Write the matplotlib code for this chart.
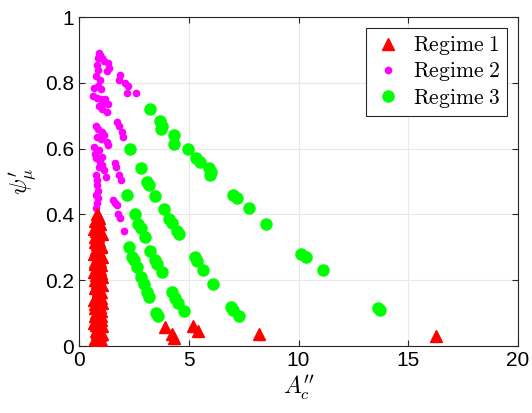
import matplotlib.pyplot as plt

plt.rcParams['mathtext.fontset'] = 'cm'
plt.rcParams['font.family'] = ['Liberation Sans', 'DejaVu Sans']

# Regime 1: dense column near A''_c ~ 0.8 plus a few isolated points
r1_x = [0.80, 0.90, 0.75, 0.95, 0.85, 0.78, 0.98, 0.88, 0.72, 0.92,
        0.82, 1.00, 0.76, 0.90, 0.86, 0.80, 0.95, 0.74, 0.88, 0.84,
        1.02, 0.78, 0.92, 0.82, 0.96, 0.76, 0.86, 0.90, 0.80, 0.98,
        0.84, 0.74, 0.94, 0.88, 0.78, 1.00, 0.82, 0.90, 0.76, 0.86,
        0.92, 0.80, 0.96, 0.84, 0.88, 0.78, 0.82, 0.90,
        0.70, 1.04, 0.72, 1.02, 0.68, 1.05, 0.73, 1.00, 0.70, 1.03,
        0.75, 1.04, 0.71, 0.99, 0.69, 1.05, 0.74, 1.02, 0.72, 1.00,
        0.70, 1.04, 0.76, 1.03, 0.72, 0.98, 0.71, 1.05, 0.73, 1.02,
        0.85, 0.93, 0.87, 0.81, 0.94, 0.89, 0.83, 0.91,
        3.93, 4.25, 4.32, 5.20, 5.40, 8.20, 16.25]
r1_y = [0.400, 0.390, 0.380, 0.370, 0.360, 0.350, 0.345, 0.335, 0.330, 0.320,
        0.310, 0.300, 0.295, 0.285, 0.275, 0.265, 0.258, 0.250, 0.240, 0.230,
        0.222, 0.215, 0.205, 0.195, 0.188, 0.180, 0.170, 0.160, 0.152, 0.145,
        0.135, 0.128, 0.120, 0.110, 0.100, 0.092, 0.085, 0.075, 0.065, 0.058,
        0.050, 0.040, 0.032, 0.025, 0.015, 0.008, 0.003, 0.000,
        0.355, 0.340, 0.315, 0.305, 0.280, 0.270, 0.255, 0.245, 0.225, 0.210,
        0.200, 0.185, 0.175, 0.165, 0.140, 0.130, 0.115, 0.105, 0.090, 0.080,
        0.070, 0.060, 0.045, 0.035, 0.020, 0.012, 0.005, 0.000, 0.000, 0.018,
        0.395, 0.375, 0.325, 0.290, 0.235, 0.155, 0.095, 0.042,
        0.058, 0.035, 0.025, 0.060, 0.045, 0.035, 0.030]

# Regime 2
r2_x = [0.90, 0.97, 0.85, 1.05, 1.15, 1.30, 1.38, 1.28, 0.80, 0.85,
        0.78, 0.95, 0.68, 0.88, 1.02, 0.65, 0.82, 1.00, 1.14, 1.20,
        0.91, 1.05, 1.28, 1.32,
        1.87, 1.83, 2.10, 2.24, 2.19, 2.60,
        0.78, 0.88, 1.05, 1.15, 0.82, 1.02, 1.28, 1.30, 0.68, 0.90,
        0.72, 0.78, 1.05,
        1.74, 1.83, 1.96, 2.00,
        1.64, 1.69, 1.83, 1.90,
        0.96, 0.91, 1.05, 1.14, 0.78, 1.23, 0.82, 0.80, 0.78, 0.87,
        0.82, 0.78, 0.85,
        1.55, 1.64, 1.74, 1.78, 1.87, 2.05]
r2_y = [0.890, 0.885, 0.875, 0.875, 0.865, 0.860, 0.845, 0.835, 0.855, 0.840,
        0.820, 0.810, 0.785, 0.790, 0.780, 0.760, 0.755, 0.750, 0.740, 0.750,
        0.730, 0.720, 0.710, 0.735,
        0.825, 0.810, 0.800, 0.790, 0.770, 0.770,
        0.670, 0.660, 0.650, 0.640, 0.635, 0.630, 0.620, 0.610, 0.605, 0.595,
        0.585, 0.570, 0.575,
        0.680, 0.670, 0.650, 0.635,
        0.555, 0.545, 0.520, 0.505,
        0.560, 0.545, 0.550, 0.535, 0.520, 0.515, 0.490, 0.505, 0.460, 0.450,
        0.435, 0.420, 0.470,
        0.445, 0.435, 0.430, 0.400, 0.390, 0.350]

# Regime 3
r3_x = [3.24, 3.68, 3.78, 3.72, 4.32, 4.34, 4.95, 5.34, 5.50, 5.90,
        6.00, 5.95, 7.03, 7.20, 7.76, 8.50, 10.10, 10.35, 11.10, 13.60, 13.72,
        2.33, 2.82, 3.10, 3.20, 3.48, 3.86, 4.10, 4.25, 4.47, 4.57,
        5.30, 5.39, 5.66, 6.10, 6.94, 7.03, 7.30,
        2.20, 2.56, 2.70, 2.83, 3.00, 3.24, 3.47, 3.56, 3.79,
        4.25, 4.38, 4.52, 4.80,
        2.28, 2.42, 2.50, 2.65, 2.83, 2.95, 3.10, 3.20, 3.53, 3.62]
r3_y = [0.720, 0.685, 0.670, 0.660, 0.640, 0.615, 0.600, 0.570, 0.560, 0.540,
        0.530, 0.520, 0.460, 0.450, 0.420, 0.370, 0.280, 0.270, 0.230, 0.115, 0.110,
        0.600, 0.540, 0.500, 0.490, 0.455, 0.415, 0.385, 0.375, 0.350, 0.340,
        0.270, 0.258, 0.230, 0.190, 0.120, 0.110, 0.090,
        0.460, 0.400, 0.370, 0.360, 0.330, 0.290, 0.260, 0.250, 0.225,
        0.165, 0.145, 0.130, 0.105,
        0.300, 0.270, 0.260, 0.240, 0.210, 0.190, 0.165, 0.150, 0.100, 0.090]

fig = plt.figure(figsize=(5.32, 4.13), dpi=100)
ax = fig.add_axes([0.1485, 0.1622, 0.8252, 0.7966])

h3, = ax.plot(r3_x, r3_y, 'o', color='#00ff00', markersize=8, zorder=3,
              label=r'$\mathrm{Regime\ 3}$')
h2, = ax.plot(r2_x, r2_y, 'o', color='#ff00ff', markersize=4.5, zorder=4,
              label=r'$\mathrm{Regime\ 2}$')
h1, = ax.plot(r1_x, r1_y, '^', color='#ff0000', markersize=8, zorder=5,
              label=r'$\mathrm{Regime\ 1}$')

ax.set_xlim(0, 20)
ax.set_ylim(0, 1)
ax.set_xticks([0, 5, 10, 15, 20])
ax.set_yticks([0, 0.2, 0.4, 0.6, 0.8, 1])
ax.set_yticklabels(['0', '0.2', '0.4', '0.6', '0.8', '1'])
ax.tick_params(direction='in', top=True, right=True, labelsize=15,
               length=4, width=0.8, colors='#262626', labelcolor='black')
for s in ax.spines.values():
    s.set_color('#262626')
    s.set_linewidth(0.8)
ax.grid(True, color='#e8e8e8', linewidth=0.8)
ax.set_axisbelow(True)

ax.set_xlabel(r"$A^{\prime\prime}_c$", fontsize=17, labelpad=2)
ax.set_ylabel(r"$\psi^{\prime}_{\mu}$", fontsize=17, labelpad=4)

leg = ax.legend(handles=[h1, h2, h3], loc='upper right', fontsize=15.5,
                fancybox=False, edgecolor='#262626', framealpha=1,
                borderaxespad=0.5, handletextpad=0.4, borderpad=0.3,
                labelspacing=0.15, handlelength=1.5)
leg.get_frame().set_linewidth(0.8)

fig.savefig('out.png', dpi=100)
